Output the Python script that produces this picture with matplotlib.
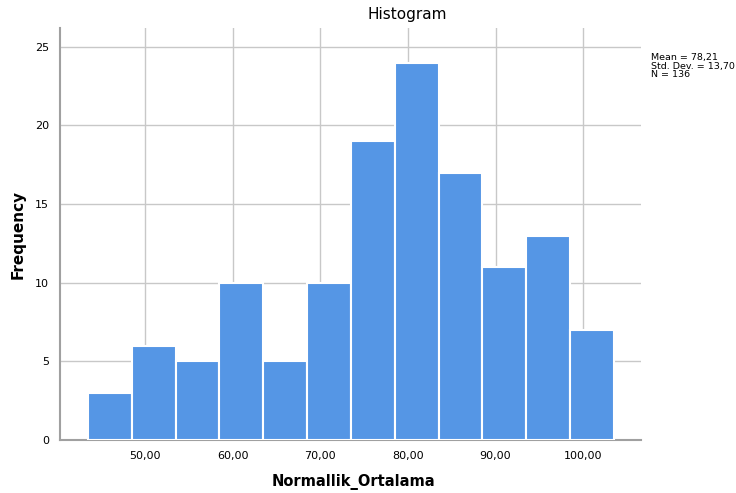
import matplotlib.pyplot as plt

# histogram bins (left edges) and counts
bin_edges = [43.5, 48.5, 53.5, 58.5, 63.5, 68.5, 73.5, 78.5, 83.5, 88.5, 93.5, 98.5, 103.5]
counts = [3, 6, 5, 10, 5, 10, 19, 24, 17, 11, 13, 7]
xticks = [50, 60, 70, 80, 90, 100]
xtick_labels = ['50,00', '60,00', '70,00', '80,00', '90,00', '100,00']
yticks = [0, 5, 10, 15, 20, 25]
stats_text = 'Mean = 78,21\nStd. Dev. = 13,70\nN = 136'

fig = plt.figure(figsize=(7.36, 4.93), dpi=100)
ax = fig.add_axes([60/736, 1 - 440/493, 581/736, 412/493])

lefts = bin_edges[:-1]
widths = [bin_edges[i+1] - bin_edges[i] for i in range(len(counts))]
ax.bar(lefts, counts, width=widths, align='edge', color='#5596E5',
       edgecolor='white', linewidth=1.5, zorder=3)

ax.set_xlim(40.3, 106.6)
ax.set_ylim(0, 26.2)
ax.set_xticks(xticks)
ax.set_xticklabels(xtick_labels)
ax.set_yticks(yticks)
ax.tick_params(length=0, labelsize=8, pad=8)
ax.grid(True, color='#c8c8c8', linewidth=1, zorder=0)
for s in ['top', 'right']:
    ax.spines[s].set_visible(False)
for s in ['left', 'bottom']:
    ax.spines[s].set_color('#a0a0a0')
    ax.spines[s].set_linewidth(1.5)

ax.set_xlabel('Normallik_Ortalama', fontsize=10.5, fontweight='bold')
ax.xaxis.set_label_coords(0.505, -0.102)
ax.xaxis.label.set_va('center')
ax.set_ylabel('Frequency', fontsize=11, fontweight='bold')
ax.yaxis.set_label_coords(-42/581, 0.5)
ax.yaxis.label.set_va('center')
fig.text(407/736, 1 - 15/493, 'Histogram', ha='center', va='center', fontsize=11)
fig.text(651/736, 1 - 66/493, stats_text, ha='left', va='center', fontsize=6.8, linespacing=0.95)

fig.savefig('out.png', dpi=100)
